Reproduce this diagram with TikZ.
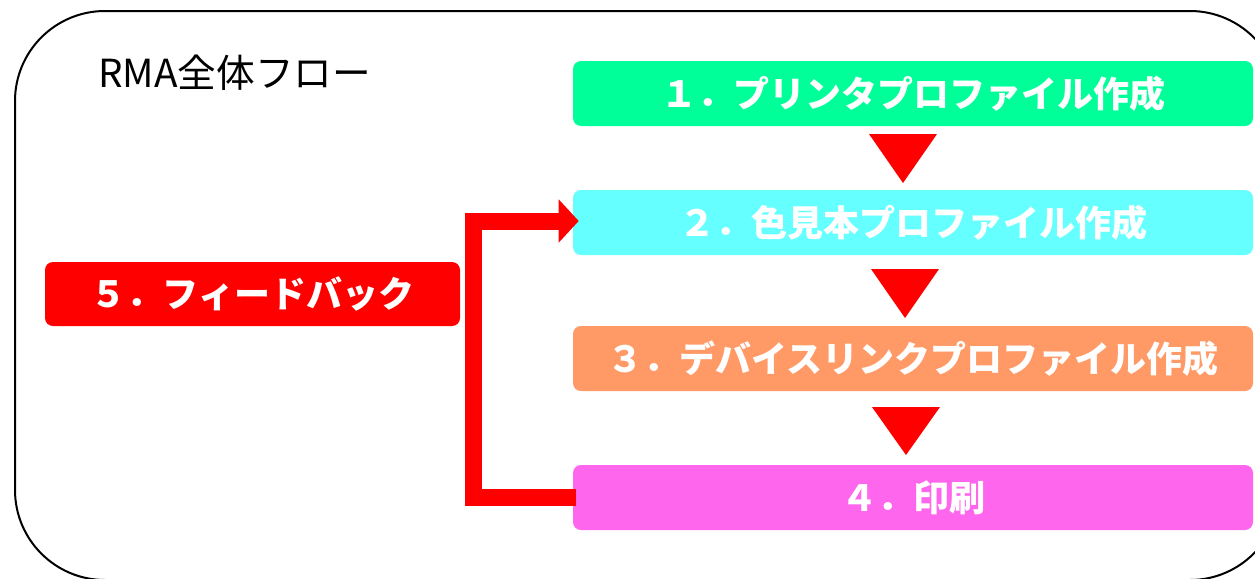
\documentclass[tikz,border=0pt]{standalone}
\usepackage{fontspec}
\newfontfamily\jp{Noto Sans CJK JP}
\usetikzlibrary{arrows.meta,calc}
\newdimen\pxu \pxu=0.75pt
\definecolor{cgreen}{HTML}{00FF99}
\definecolor{ccyan}{HTML}{66FFFF}
\definecolor{corange}{HTML}{FF9966}
\definecolor{cmagenta}{HTML}{FF66EE}
\definecolor{cred}{HTML}{FF0000}
\tikzset{
  stepbox/.style={rounded corners=6pt, minimum width=680\pxu, minimum height=65\pxu,
    inner sep=0pt, text=white, font=\jp\bfseries\fontsize{27pt}{31pt}\selectfont},
  downtri/.style={fill=cred, draw=none},
  fb/.style={draw=cred, line width=17\pxu, line join=miter,
    -{Triangle[length=15pt,width=31.5pt]}},
}
\begin{document}
\begin{tikzpicture}[x=0.75pt,y=-0.75pt]
\useasboundingbox (0,0) rectangle (1255,578);
\clip (0,0) rectangle (1255,578);
\draw[line width=1.5pt, rounded corners=67.5pt] (15,11) rectangle (1280,580);
\node[anchor=base west, inner sep=0pt, font=\jp\fontsize{29pt}{33pt}\selectfont] (title) at (98,87) {RMA全体フロー};
\node[stepbox, fill=cgreen] (b1) at (913,93.5) {１．プリンタプロファイル作成};
\node[stepbox, fill=ccyan] (b2) at (913,222.5) {２．色見本プロファイル作成};
\node[stepbox, fill=corange] (b3) at (913,358.5) {３．デバイスリンクプロファイル作成};
\node[stepbox, fill=cmagenta] (b4) at (913,497.5) {４．印刷};
\node[stepbox, fill=cred, minimum width=415\pxu, minimum height=64\pxu] (b5) at (252.5,294) {５．フィードバック};
\fill[downtri] (869,134) -- (937,134) -- (903,183) -- cycle;
\fill[downtri] (871,269) -- (939,269) -- (905,318) -- cycle;
\fill[downtri] (872,407) -- (940,407) -- (906,455) -- cycle;
\coordinate (c4) at ($(b4.west)+(3,0)$);
\coordinate (c2) at ($(b2.west)+(6,-1.5)$);
\draw[fb] (c4) -- (473,497.5) |- (c2);
\end{tikzpicture}
\end{document}
